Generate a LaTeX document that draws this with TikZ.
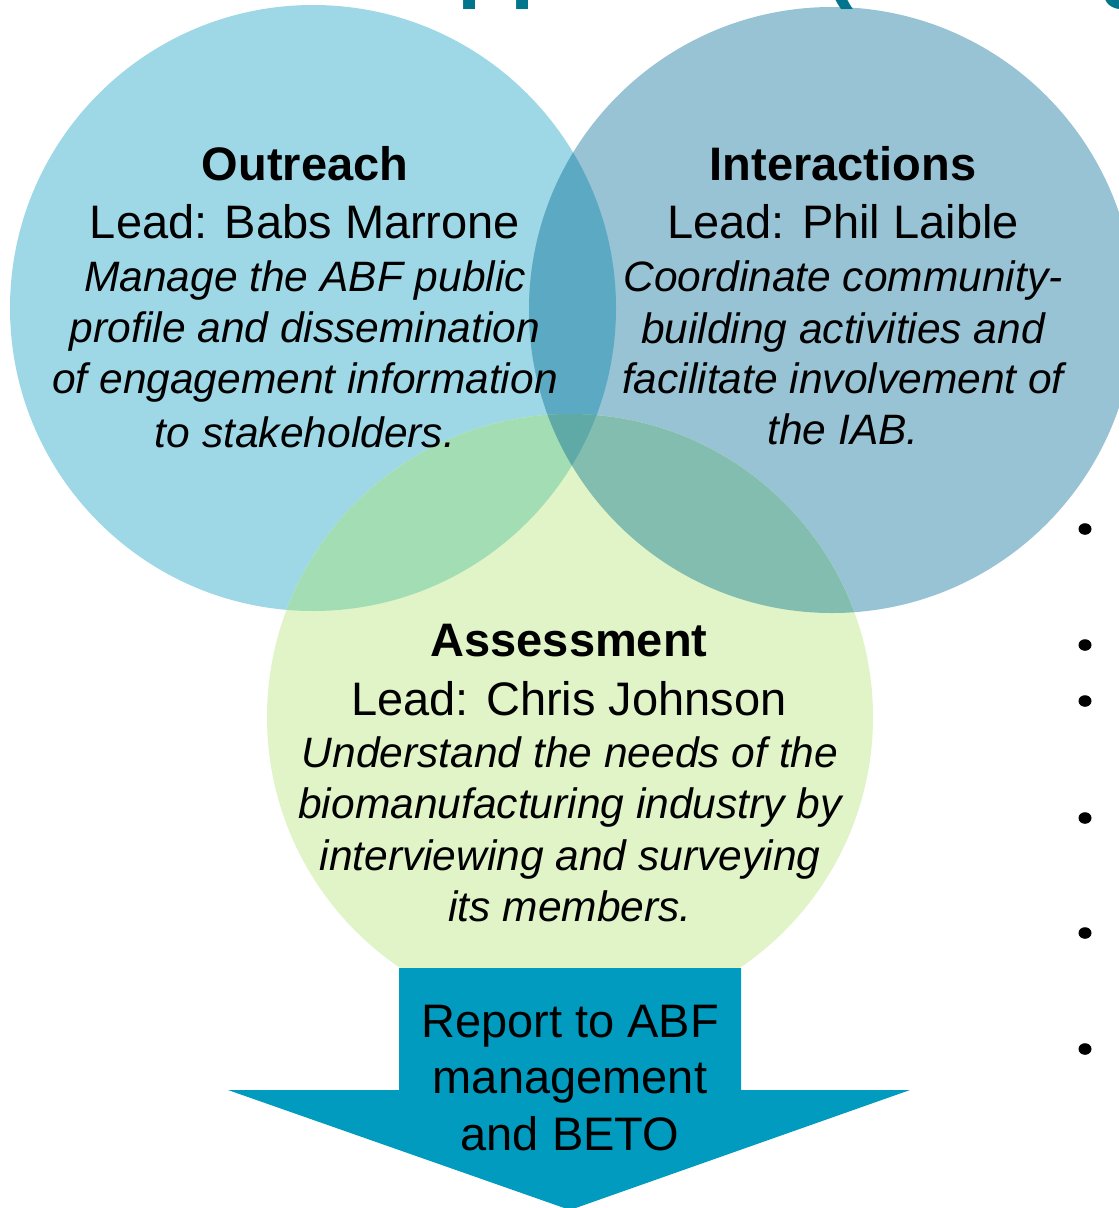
\documentclass[tikz,border=0pt]{standalone}
\usepackage{fontspec}
\setmainfont{Liberation Sans}
\definecolor{outfill}{HTML}{9ED8E6}
\definecolor{intfill}{HTML}{97C3D4}
\definecolor{assfill}{HTML}{E0F4C8}
\definecolor{oifill}{HTML}{5BA9C3}
\definecolor{oafill}{HTML}{A2DDB4}
\definecolor{iafill}{HTML}{83BDB0}
\definecolor{oiafill}{HTML}{5FAAA6}
\definecolor{arrowfill}{HTML}{009BBE}
\definecolor{titleteal}{HTML}{00758C}
\begin{document}
\begin{tikzpicture}[x=1pt,y=-1pt,
  headtxt/.style={anchor=base,inner sep=0,font=\fontsize{47}{47}\selectfont\bfseries},
  leadtxt/.style={anchor=base,inner sep=0,font=\fontsize{47}{47}\selectfont},
  desctxt/.style={anchor=base,inner sep=0,font=\fontsize{42.5}{42.5}\selectfont\itshape},
  arrowtxt/.style={anchor=base,inner sep=0,font=\fontsize{47}{47}\selectfont},
  bulletdot/.style={fill=black}]
\useasboundingbox (0,0) rectangle (1119,1208);

% circle centres
\coordinate (oc) at (313,308);
\coordinate (ic) at (832,310);
\coordinate (ac) at (570,717);
\def\rad{303}

% the three circles
\fill[outfill] (oc) circle[radius=\rad];
\fill[intfill] (ic) circle[radius=\rad];
\fill[assfill] (ac) circle[radius=\rad];

% pairwise overlaps
\begin{scope}
  \clip (oc) circle[radius=\rad];
  \fill[oifill] (ic) circle[radius=\rad];
\end{scope}
\begin{scope}
  \clip (oc) circle[radius=\rad];
  \fill[oafill] (ac) circle[radius=\rad];
\end{scope}
\begin{scope}
  \clip (ic) circle[radius=\rad];
  \fill[iafill] (ac) circle[radius=\rad];
\end{scope}
% triple overlap
\begin{scope}
  \clip (oc) circle[radius=\rad];
  \clip (ic) circle[radius=\rad];
  \fill[oiafill] (ac) circle[radius=\rad];
\end{scope}

% heading above the diagram
\node[anchor=base west,inner sep=0,text=titleteal,
      font=\fontsize{87}{87}\selectfont\bfseries] (title) at (394,-9) {Approach (Strategy};

% Outreach
\node[headtxt] (outhead) at (305,180) {Outreach};
\node[leadtxt] (outlead) at (305,238) {Lead: Babs Marrone};
\node[desctxt] (outd1) at (305,291) {Manage the ABF public};
\node[desctxt] (outd2) at (305,342) {profile and dissemination};
\node[desctxt] (outd3) at (305,393) {of engagement information};
\node[desctxt] (outd4) at (305,447) {to stakeholders.};

% Interactions
\node[headtxt] (inthead) at (843,180) {Interactions};
\node[leadtxt] (intlead) at (843,238) {Lead: Phil Laible};
\node[desctxt] (intd1) at (843,291) {Coordinate community-};
\node[desctxt] (intd2) at (843,343) {building activities and};
\node[desctxt] (intd3) at (843,393) {facilitate involvement of};
\node[desctxt] (intd4) at (843,444) {the IAB.};

% Assessment
\node[headtxt] (asshead) at (569,656) {Assessment};
\node[leadtxt] (asslead) at (569,715) {Lead: Chris Johnson};
\node[desctxt] (assd1) at (570,767) {Understand the needs of the};
\node[desctxt] (assd2) at (570,818) {biomanufacturing industry by};
\node[desctxt] (assd3) at (570,870) {interviewing and surveying};
\node[desctxt] (assd4) at (570,921) {its members.};

% block arrow down to the report
\fill[arrowfill] (399,968) -- (741,968) -- (741,1090) -- (910,1090)
  -- (570,1210) -- (228,1090) -- (399,1090) -- cycle;
\node[arrowtxt] (rep1) at (570,1037) {Report to ABF};
\node[arrowtxt] (rep2) at (570,1093) {management};
\node[arrowtxt] (rep3) at (570,1150) {and BETO};

% bullet column on the right
\foreach \by [count=\i] in {529,645,701,818,933,1049}
  \fill[bulletdot] (1085,\by) ellipse[x radius=6.5,y radius=5.8];
\end{tikzpicture}
\end{document}
